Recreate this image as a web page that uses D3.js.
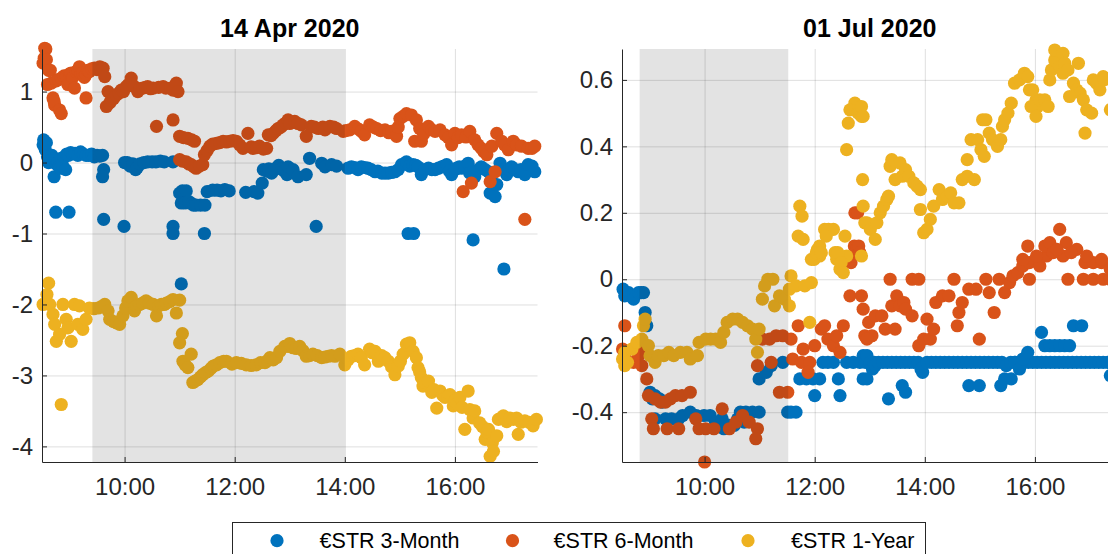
<!DOCTYPE html>
<html><head><meta charset="utf-8">
<script src="https://cdn.jsdelivr.net/npm/d3@7"></script>
<style>
body{margin:0;background:#fff;}
svg{display:block;font-family:"Liberation Sans",Arial,Helvetica,sans-serif;}
</style>
</head><body>
<svg id="chart" width="1108" height="554"></svg>
<script>
// ---------------- DATA ----------------
const seriesNames = ["€STR 3-Month", "€STR 6-Month", "€STR 1-Year"];
const panelTitles = ["14 Apr 2020", "01 Jul 2020"];
const timeRange = [8.5, 17.5];          // decimal hours
const aprYRange = [-4.22, 1.6];
const julYRange = [-0.55, 0.693];
const aprYTicks = [-4, -3, -2, -1, 0, 1];
const julYTicks = [-0.4, -0.2, 0, 0.2, 0.4, 0.6];
const aprShade = [9.415, 14.0];
const julShade = [8.82, 11.52];

// 14 Apr 2020 — [decimal hour, value]
const aprM3 = [[8.52,0.25],[8.53,0.32],[8.56,0.18],[8.58,0.28],[8.6,0.08],[8.62,0.0],[8.65,0.06],[8.68,0.1],[8.7,0.05],[8.72,-0.2],[8.74,0.04],[8.76,-0.02],[8.79,0.0],[8.81,-0.06],[8.83,-0.08],[8.85,0.06],[8.87,-0.03],[8.9,0.08],[8.93,-0.1],[8.95,0.12],[8.98,0.1],[9.02,0.14],[9.06,0.12],[9.1,0.13],[9.15,0.1],[9.2,0.15],[9.25,0.12],[9.3,0.1],[9.35,0.1],[9.4,0.12],[9.45,0.08],[9.5,0.1],[9.55,0.09],[9.6,0.1],[9.62,-0.1],[9.6,-0.2],[8.75,-0.7],[8.99,-0.7],[9.62,-0.8],[9.99,-0.9],
[10.0,0.0],[10.05,0.0],[10.1,-0.05],[10.15,-0.02],[10.2,-0.1],[10.23,-0.07],[10.28,-0.02],[10.35,0.0],[10.42,0.01],[10.5,0.01],[10.57,0.01],[10.65,0.02],[10.72,0.01],[10.88,0.01],[10.88,-0.9],[10.88,-1.0],[11.45,-1.0],[11.03,-1.71],
[11.0,-0.43],[11.05,-0.4],[11.12,-0.4],[11.03,-0.57],[11.1,-0.57],[11.17,-0.55],[11.22,-0.58],[11.25,-0.6],[11.3,-0.6],[11.38,-0.6],[11.46,-0.6],[11.5,-0.41],[11.6,-0.39],[11.68,-0.39],[11.75,-0.4],[11.82,-0.38],[11.9,-0.4],[12.2,-0.42],[12.35,-0.41],[12.42,-0.43],[12.5,-0.29],[12.52,-0.1],[12.58,-0.12],[12.62,-0.09],[12.67,-0.15],[12.72,-0.1],[12.77,-0.07],[12.8,-0.04],[12.85,-0.09],[12.9,-0.12],[12.95,-0.17],[12.97,-0.06],[13.06,-0.1],[13.15,-0.2],[13.3,-0.17],[13.36,0.06],[13.58,-0.01],[13.64,-0.06],[13.76,-0.03],[13.85,-0.05],[13.48,-0.9],
[14.06,-0.08],[14.12,-0.06],[14.18,-0.07],[14.24,-0.1],[14.3,-0.06],[14.36,-0.07],[14.42,-0.08],[14.48,-0.1],[14.55,-0.13],[14.6,-0.12],[14.67,-0.15],[14.73,-0.15],[14.79,-0.15],[14.85,-0.14],[14.91,-0.13],[14.97,-0.1],[15.03,-0.03],[15.08,-0.02],[15.12,0.01],[15.18,-0.05],[15.24,-0.03],[15.29,-0.04],[15.33,-0.06],[15.39,-0.17],[15.45,-0.1],[15.52,-0.08],[15.58,-0.1],[15.64,-0.1],[15.7,-0.08],[15.76,-0.06],[15.8,-0.05],[15.85,-0.03],[15.9,-0.12],[15.94,-0.17],[16.0,-0.1],[16.03,-0.08],[16.08,-0.06],[16.12,-0.08],[16.18,-0.05],[16.24,-0.01],[16.27,-0.15],[16.36,-0.2],[16.42,-0.1],[16.48,-0.06],[16.55,-0.1],[16.61,-0.13],[16.64,-0.43],[16.7,-0.3],[16.73,-0.48],[16.76,-0.31],[16.82,-0.01],[16.88,-0.1],[16.94,-0.17],[16.98,-0.1],[17.03,-0.06],[17.09,-0.1],[17.15,-0.13],[17.2,-0.1],[17.27,-0.17],[17.33,-0.03],[17.4,-0.05],[17.45,-0.13],
[15.15,-1.0],[15.25,-1.0],[16.33,-1.09],[16.89,-1.5]];

const aprM6 = [[8.52,1.4],[8.55,1.61],[8.57,1.6],[8.54,1.47],[8.58,1.45],[8.62,1.3],[8.65,1.3],[8.6,1.1],[8.67,1.12],[8.7,0.91],[8.73,0.81],[8.72,0.86],[8.82,0.74],[8.85,0.69],[8.76,1.15],[8.8,1.17],[8.85,1.19],[8.9,1.22],[8.94,1.21],[8.97,1.1],[9.0,1.25],[9.03,1.26],[9.06,1.2],[9.09,1.05],[9.12,1.28],[9.15,1.3],[9.18,1.35],[9.21,1.25],[9.24,1.26],[9.27,1.2],[9.3,1.24],[9.3,0.91],[9.33,1.3],[9.36,1.28],[9.4,1.32],[9.45,1.33],[9.5,1.31],[9.55,1.35],[9.58,1.32],[9.61,1.33],[9.64,1.21],
[9.67,0.79],[9.7,1.0],[9.73,0.84],[9.76,0.88],[9.8,0.9],[9.85,0.95],[9.9,0.98],[9.94,1.02],[9.98,1.0],[10.03,1.07],[10.07,1.1],[10.12,1.19],[10.18,1.07],[10.24,1.0],[10.28,1.04],[10.33,1.05],[10.38,1.06],[10.42,1.07],[10.47,1.04],[10.52,1.05],[10.62,1.06],[10.7,1.07],[10.75,1.05],[10.84,1.05],[10.88,1.02],[10.94,1.12],[10.97,1.0],[10.58,0.51],[10.88,0.6],
[11.0,0.37],[11.07,0.35],[11.15,0.34],[11.22,0.32],[11.27,0.3],[11.0,0.04],[11.05,0.02],[11.12,0.01],[11.17,-0.02],[11.21,-0.03],[11.26,-0.06],[11.3,-0.08],[11.36,-0.05],[11.42,-0.03],[11.45,0.11],[11.5,0.17],[11.55,0.23],[11.6,0.26],[11.67,0.27],[11.73,0.28],[11.79,0.3],[11.85,0.29],[11.91,0.3],[11.97,0.31],[12.03,0.3],[12.09,0.25],[12.15,0.2],[12.24,0.41],[12.3,0.22],[12.33,0.2],[12.4,0.21],[12.45,0.23],[12.52,0.19],[12.58,0.2],[12.61,0.39],[12.66,0.38],[12.7,0.41],[12.75,0.45],[12.79,0.48],[12.84,0.5],[12.88,0.53],[12.93,0.56],[12.97,0.6],
[13.0,0.55],[13.09,0.58],[13.15,0.55],[13.21,0.53],[13.3,0.37],[13.39,0.51],[13.45,0.5],[13.52,0.48],[13.6,0.5],[13.64,0.46],[13.73,0.51],[13.8,0.5],[13.85,0.48],[13.97,0.44],[14.02,0.45],[14.09,0.46],[14.18,0.51],[14.25,0.47],[14.3,0.44],[14.36,0.39],[14.45,0.53],[14.52,0.5],[14.58,0.48],[14.65,0.45],[14.73,0.46],[14.8,0.42],[14.85,0.44],[14.94,0.37],[14.97,0.5],[15.0,0.62],[15.06,0.65],[15.12,0.69],[15.21,0.67],[15.3,0.6],[15.27,0.3],[15.39,0.3],[15.36,0.48],[15.43,0.4],[15.52,0.51],[15.58,0.46],[15.64,0.44],[15.73,0.46],[15.82,0.39],[15.88,0.35],[15.94,0.25],[16.0,0.41],[16.06,0.35],[16.12,0.39],[16.2,0.36],[16.27,0.44],[16.36,0.32],[16.42,0.25],[16.48,0.2],[16.53,0.15],[16.58,0.11],[16.67,0.23],[16.76,0.41],[16.85,0.3],[16.9,0.25],[16.97,0.18],[17.06,0.3],[17.12,0.25],[17.21,0.23],[17.33,0.2],[17.4,0.2],[17.45,0.23],
[16.64,-0.27],[16.73,-0.13],[16.15,-0.41],[16.3,-0.29],[17.27,-0.8]];

const aprY1 = [[8.62,-1.7],[8.59,-1.86],[8.52,-2.0],[8.64,-2.0],[8.7,-2.14],[8.73,-2.28],[8.76,-2.52],[8.82,-2.42],[8.88,-2.0],[8.94,-2.21],[8.97,-2.33],[9.03,-2.52],[9.09,-2.0],[9.18,-2.02],[9.15,-2.28],[9.24,-2.35],[9.3,-2.21],[9.36,-2.05],[9.44,-2.06],[9.52,-2.05],[9.58,-2.03],[9.64,-2.0],[9.7,-2.09],[9.73,-2.21],[9.8,-2.24],[9.85,-2.26],[9.91,-2.28],[9.97,-2.16],[10.02,-2.05],[10.06,-1.95],[10.12,-1.9],[10.18,-2.09],[10.22,-2.02],[10.27,-2.0],[10.33,-1.98],[10.39,-1.95],[10.45,-1.98],[10.52,-2.0],[10.58,-2.16],[10.62,-2.02],[10.67,-2.0],[10.72,-2.0],[10.76,-1.98],[10.82,-1.96],[10.88,-1.93],[10.94,-2.12],[11.0,-1.94],[8.85,-3.41],
[11.05,-2.41],[11.0,-2.54],[11.06,-2.8],[11.1,-2.85],[11.15,-2.89],[11.21,-2.7],[11.24,-3.1],[11.28,-3.08],[11.33,-3.06],[11.38,-3.02],[11.42,-2.99],[11.47,-2.96],[11.52,-2.94],[11.57,-2.9],[11.61,-2.87],[11.67,-2.85],[11.73,-2.82],[11.8,-2.8],[11.85,-2.8],[11.95,-2.84],[12.03,-2.82],[12.12,-2.83],[12.21,-2.85],[12.3,-2.86],[12.39,-2.85],[12.47,-2.82],[12.55,-2.82],[12.6,-2.79],[12.64,-2.75],[12.7,-2.78],[12.76,-2.75],[12.82,-2.66],[12.91,-2.59],[12.97,-2.59],[13.0,-2.55],[13.06,-2.61],[13.12,-2.62],[13.18,-2.59],[13.24,-2.65],[13.3,-2.73],[13.36,-2.72],[13.42,-2.7],[13.5,-2.72],[13.58,-2.75],[13.64,-2.74],[13.7,-2.73],[13.76,-2.72],[13.82,-2.73],[13.91,-2.7],[14.0,-2.85],[14.06,-2.78],[14.12,-2.73],[14.18,-2.72],[14.24,-2.7],[14.3,-2.75],[14.36,-2.85],[14.45,-2.63],[14.5,-2.68],[14.55,-2.66],[14.61,-2.8],[14.67,-2.72],[14.73,-2.75],[14.79,-2.8],[14.85,-2.88],[14.91,-2.99],[14.97,-2.87],[15.01,-2.8],[15.06,-2.7],[15.12,-2.56],[15.15,-2.58],[15.18,-2.54],[15.24,-2.66],[15.3,-2.75],[15.33,-2.89],[15.36,-2.95],[15.39,-3.03],[15.42,-3.15],[15.46,-3.1],[15.52,-3.08],[15.58,-3.24],[15.62,-3.2],[15.67,-3.46],[15.73,-3.22],[15.78,-3.28],[15.82,-3.31],[15.87,-3.3],[15.91,-3.27],[15.97,-3.43],[16.0,-3.36],[16.04,-3.4],[16.09,-3.31],[16.13,-3.45],[16.18,-3.76],[16.24,-3.22],[16.27,-3.48],[16.33,-3.6],[16.36,-3.5],[16.45,-3.67],[16.5,-3.72],[16.55,-3.9],[16.58,-3.8],[16.61,-3.76],[16.64,-4.14],[16.68,-3.95],[16.7,-4.07],[16.76,-3.85],[16.79,-3.62],[16.84,-3.6],[16.88,-3.57],[16.94,-3.65],[17.0,-3.6],[17.06,-3.62],[17.12,-3.6],[17.15,-3.83],[17.2,-3.66],[17.27,-3.64],[17.35,-3.66],[17.42,-3.71],[17.48,-3.62]];

// 01 Jul 2020 — [decimal hour, value]
const julM3 = [[8.52,-0.03],[8.55,-0.05],[8.62,-0.04],[8.66,-0.05],[8.71,-0.06],[8.8,-0.04],[8.85,-0.04],[8.89,-0.04],[8.92,-0.1],[8.95,-0.14],[9.01,-0.34],[9.05,-0.36],[9.1,-0.35],[9.18,-0.36],[9.23,-0.37],[9.1,-0.42],[9.29,-0.42],[9.4,-0.42],[9.53,-0.42],[9.6,-0.41],[9.74,-0.4],[9.85,-0.41],[9.99,-0.41],[10.1,-0.41],[10.2,-0.43],[10.32,-0.42],[10.35,-0.45],[10.45,-0.44],[10.54,-0.44],[10.6,-0.42],[10.65,-0.4],[10.72,-0.43],[10.75,-0.4],[10.87,-0.4],[10.99,-0.4],[10.99,-0.3],[11.12,-0.28],[11.21,-0.26],[11.42,-0.25],[11.51,-0.4],[11.57,-0.4],[11.66,-0.4],[11.73,-0.3],[11.85,-0.3],[11.97,-0.3],[12.0,-0.35],[12.09,-0.3],[12.15,-0.25],[12.24,-0.25],[12.34,-0.25],[12.43,-0.3],[12.46,-0.35],[12.58,-0.25],[12.7,-0.25],[12.82,-0.25],[12.88,-0.3],[12.88,-0.23],[12.95,-0.3],
[12.92,-0.25],[12.95,-0.23],[13.0,-0.25],[13.05,-0.27],[13.08,-0.25],[13.1,-0.26],[13.16,-0.25],[13.24,-0.25],[13.32,-0.25],[13.4,-0.25],[13.48,-0.25],[13.56,-0.25],[13.64,-0.25],[13.72,-0.25],[13.8,-0.25],[13.88,-0.25],[13.93,-0.27],[13.96,-0.28],[14.04,-0.25],[14.12,-0.25],[14.2,-0.25],[14.28,-0.25],[14.36,-0.25],[14.44,-0.25],[14.52,-0.25],[14.6,-0.25],[14.68,-0.25],[14.76,-0.25],[14.84,-0.25],[14.92,-0.25],[15.0,-0.25],[15.08,-0.25],[15.16,-0.25],[15.24,-0.25],[15.32,-0.25],[15.4,-0.25],[15.48,-0.26],[15.56,-0.25],[15.64,-0.25],[15.72,-0.25],[15.8,-0.25],[15.88,-0.25],[15.96,-0.25],[16.04,-0.25],[16.12,-0.25],[16.2,-0.25],[16.28,-0.25],[16.36,-0.25],[16.44,-0.25],[16.52,-0.25],[16.6,-0.25],[16.68,-0.25],[16.76,-0.25],[16.84,-0.25],[16.92,-0.25],[17.0,-0.25],[17.08,-0.25],[17.16,-0.25],[17.24,-0.25],[17.32,-0.25],
[13.34,-0.36],[13.59,-0.32],[13.65,-0.34],[14.8,-0.32],[14.99,-0.32],[15.38,-0.32],[15.45,-0.3],[15.57,-0.3],[15.63,-0.25],[15.72,-0.27],[15.78,-0.24],[15.87,-0.22],[16.12,-0.16],[16.18,-0.2],[16.27,-0.2],[16.36,-0.2],[16.45,-0.2],[16.54,-0.2],[16.63,-0.2],[16.7,-0.14],[16.85,-0.14],[17.37,-0.29]];

const julM6 = [[8.55,-0.14],[8.51,-0.21],[8.55,-0.23],[8.71,-0.25],[8.8,-0.23],[8.86,-0.26],[8.95,-0.3],[8.89,-0.21],[8.98,-0.35],[9.1,-0.36],[9.2,-0.37],[9.29,-0.37],[9.38,-0.36],[9.47,-0.35],[9.59,-0.35],[9.74,-0.34],[9.04,-0.42],[9.07,-0.45],[9.32,-0.45],[9.53,-0.45],[9.84,-0.42],[9.9,-0.45],[10.02,-0.45],[10.17,-0.45],[10.32,-0.39],[10.45,-0.45],[10.57,-0.43],[10.69,-0.41],[10.81,-0.43],[10.96,-0.45],[10.93,-0.48],[10.0,-0.55],
[11.05,-0.18],[11.18,-0.18],[11.3,-0.17],[11.42,-0.17],[11.57,-0.18],[10.96,-0.26],[11.21,-0.25],[11.36,-0.34],[11.51,-0.34],[11.7,-0.14],[11.6,-0.24],[11.76,-0.25],[11.91,-0.25],[11.88,-0.28],[11.79,-0.21],[12.0,-0.2],[12.12,-0.15],[12.18,-0.14],[12.24,-0.18],[12.34,-0.2],[12.4,-0.17],[12.52,-0.14],[12.46,-0.22],[12.64,-0.05],[12.85,-0.05],[12.88,-0.09],[12.91,-0.17],
[12.66,0.05],[12.7,0.07],[12.72,0.1],[12.76,0.09],[12.8,0.1],[12.82,0.08],[12.73,0.2],[12.78,0.2],
[12.98,-0.13],[13.04,-0.17],[12.95,-0.18],[13.1,-0.11],[13.22,-0.11],[13.28,-0.15],[13.37,0.0],[13.4,-0.08],[13.49,-0.05],[13.55,-0.08],[13.62,-0.07],[13.65,-0.09],[13.77,-0.11],[13.46,-0.15],[13.89,-0.2],[13.98,-0.18],[14.04,-0.12],[14.1,-0.18],[14.16,-0.15],[13.77,0.0],[13.89,0.0],[14.2,-0.07],[14.32,-0.05],[14.44,-0.05],[14.53,0.0],[14.59,-0.14],[14.62,-0.1],[14.68,-0.07],[14.8,-0.03],[14.93,-0.03],[14.99,-0.18],[15.11,0.0],[15.17,-0.04],[15.26,-0.1],[15.35,0.0],[15.45,-0.04],[15.54,-0.01],[15.6,0.01],[15.69,0.02],[15.78,0.04],[15.9,0.0],[15.9,0.05],[16.09,0.04],[16.21,0.07],[16.51,0.07],[16.6,0.0],[16.88,0.0],[17.06,0.0],[17.24,0.0],[17.37,0.0],[16.91,0.05],[17.06,0.05],[17.21,0.05],[17.37,0.03],
[15.87,0.1],[16.18,0.1],[16.27,0.11],[16.45,0.15],[16.33,0.08],[16.57,0.11],[16.76,0.09],[16.94,0.07],[15.78,0.06],[16.03,0.07],[16.4,0.09],[16.66,0.08],[17.21,0.06]];

const julY1 = [[8.55,-0.22],[8.51,-0.24],[8.55,-0.26],[8.6,-0.25],[8.68,-0.21],[8.77,-0.19],[8.86,-0.18],[8.89,-0.14],[8.92,-0.12],[8.98,-0.2],[9.01,-0.23],[9.1,-0.25],[9.16,-0.23],[9.26,-0.23],[9.35,-0.22],[9.44,-0.23],[9.56,-0.22],[9.68,-0.22],[9.74,-0.24],[9.87,-0.23],[9.9,-0.19],[10.02,-0.18],[10.11,-0.18],[10.2,-0.18],[10.29,-0.19],[10.35,-0.16],[10.41,-0.13],[10.51,-0.12],[10.6,-0.12],[10.69,-0.13],[10.78,-0.14],[10.87,-0.15],[10.93,-0.18],[10.99,-0.15],[10.96,-0.22],
[11.15,0.0],[11.24,0.0],[11.09,-0.02],[11.05,-0.06],[11.27,-0.08],[11.36,-0.05],[11.45,-0.06],[11.54,-0.03],[11.57,0.01],[11.66,-0.02],[11.82,-0.02],[11.94,-0.01],[11.54,-0.08],[11.91,-0.13],[11.94,0.06],[11.99,0.06],[12.09,0.07],[12.4,0.06],[12.46,0.03],[12.58,0.07],
[11.73,0.22],[11.77,0.19],[11.7,0.13],[11.79,0.12],[12.05,0.09],[12.18,0.15],[12.25,0.15],[12.34,0.15],[12.21,0.13],[12.55,0.13],[12.09,0.1],[12.03,0.08],[12.37,0.08],[12.12,0.08],[12.42,0.08],[12.48,0.05],[12.52,0.02],[12.88,0.22],[12.91,0.17],[12.73,0.53],[12.64,0.51],[12.79,0.5],[12.85,0.49],[12.61,0.47],[12.58,0.39],[12.87,0.3],[12.85,0.52],[12.88,0.49],[12.85,0.07],
[12.95,0.17],[13.01,0.15],[13.1,0.12],[13.13,0.17],[13.19,0.2],[13.25,0.22],[13.31,0.24],[13.34,0.25],[13.37,0.34],[13.4,0.36],[13.46,0.3],[13.55,0.35],[13.59,0.31],[13.65,0.33],[13.71,0.31],[13.8,0.29],[13.86,0.28],[13.92,0.27],[13.92,0.21],[13.98,0.14],[14.04,0.15],[14.1,0.18],[14.16,0.22],[14.26,0.27],[14.32,0.24],[14.41,0.25],[14.47,0.26],[14.53,0.23],[14.62,0.23],[14.68,0.3],[14.77,0.31],[14.9,0.3],[14.77,0.36],[14.84,0.42],[14.96,0.42],[15.02,0.39],[15.08,0.37],[15.05,0.48],[15.11,0.48],[15.17,0.44],[15.23,0.42],[15.32,0.4],[15.38,0.42],[15.41,0.46],[15.45,0.48],[15.51,0.5],[15.57,0.53],[15.63,0.59],[15.72,0.6],[15.81,0.62],[15.87,0.61],[15.9,0.57],[15.96,0.57],[16.02,0.54],[16.05,0.52],[15.93,0.52],[16.09,0.54],[16.18,0.54],[16.24,0.52],[16.02,0.49],[16.27,0.6],[16.3,0.63],[16.36,0.66],[16.36,0.69],[16.45,0.64],[16.51,0.68],[16.54,0.65],[16.51,0.62],[16.6,0.63],[16.7,0.59],[16.79,0.65],[16.76,0.57],[16.82,0.56],[16.88,0.54],[16.94,0.51],[16.63,0.55],[17.03,0.5],[16.91,0.44],[17.06,0.6],[17.12,0.59],[17.18,0.57],[17.24,0.61],[17.26,0.6],[17.37,0.51]];

const aprSeries = [aprM3, aprM6, aprY1];
const julSeries = [julM3, julM6, julY1];

// ---------------- STYLE / LAYOUT ----------------
const colors = ["#0072BD", "#D95319", "#EDB120"];
const axisColor = "#262626";
const plotTop = 49, plotBottom = 462, plotW = 495.5;
const dotR = 6.6;
const base = new Date(2020, 0, 1).getTime();
const toDate = h => new Date(base + h * 3600000);

const svg = d3.select("#chart");

function drawPanel(cfg) {
  const g = svg.append("g");
  const x = d3.scaleTime().domain(timeRange.map(toDate)).range([cfg.x0, cfg.x0 + plotW]);
  const y = d3.scaleLinear().domain(cfg.yRange).range([plotBottom, plotTop]);
  const hourTicks = d3.timeHour.every(2);

  // grid
  g.append("g").attr("transform", `translate(0,${plotBottom})`)
    .call(d3.axisBottom(x).ticks(hourTicks).tickSize(-(plotBottom - plotTop)).tickFormat(""))
    .call(s => { s.select(".domain").remove(); s.selectAll("line").attr("stroke", axisColor).attr("stroke-opacity", 0.15); });
  g.append("g").attr("transform", `translate(${cfg.x0},0)`)
    .call(d3.axisLeft(y).tickValues(cfg.yTicks).tickSize(-plotW).tickFormat(""))
    .call(s => { s.select(".domain").remove(); s.selectAll("line").attr("stroke", axisColor).attr("stroke-opacity", 0.15); });

  // dots
  cfg.series.forEach((arr, i) => {
    g.append("g").selectAll("circle").data(arr).join("circle")
      .attr("cx", d => x(toDate(d[0])))
      .attr("cy", d => y(d[1]))
      .attr("r", dotR)
      .attr("fill", colors[i]);
  });

  // shaded window
  g.append("rect")
    .attr("x", x(toDate(cfg.shade[0])))
    .attr("width", x(toDate(cfg.shade[1])) - x(toDate(cfg.shade[0])))
    .attr("y", plotTop).attr("height", plotBottom - plotTop)
    .attr("fill", "#000").attr("fill-opacity", 0.11);

  // axes
  const xa = g.append("g").attr("transform", `translate(0,${plotBottom})`)
    .call(d3.axisBottom(x).ticks(hourTicks).tickFormat(d3.timeFormat("%H:%M"))
      .tickSizeInner(-5).tickSizeOuter(0).tickPadding(16));
  const ya = g.append("g").attr("transform", `translate(${cfg.x0},0)`)
    .call(d3.axisLeft(y).tickValues(cfg.yTicks).tickFormat(d => String(d))
      .tickSizeInner(-5).tickSizeOuter(0).tickPadding(9));
  [xa, ya].forEach(a => {
    a.attr("font-family", null).attr("font-size", null);
    a.select(".domain").attr("stroke", axisColor).attr("stroke-width", 1);
    a.selectAll(".tick line").attr("stroke", axisColor);
    a.selectAll(".tick text").attr("fill", axisColor).style("font-size", "24px");
  });

  // title
  g.append("text")
    .attr("x", cfg.x0 + plotW / 2).attr("y", 37)
    .attr("text-anchor", "middle")
    .style("font-size", "25px").style("font-weight", "bold")
    .attr("fill", "#000")
    .text(cfg.title);
}

drawPanel({ x0: 42, yRange: aprYRange, yTicks: aprYTicks, shade: aprShade, series: aprSeries, title: panelTitles[0] });
drawPanel({ x0: 622, yRange: julYRange, yTicks: julYTicks, shade: julShade, series: julSeries, title: panelTitles[1] });

// legend
const leg = svg.append("g");
leg.append("rect").attr("x", 232.5).attr("y", 522.5).attr("width", 693).attr("height", 45)
  .attr("fill", "#fff").attr("stroke", axisColor).attr("stroke-width", 1);
const legMarkerX = [277, 512.5, 748];
const legTextX = [319.6, 553.6, 791];
seriesNames.forEach((name, i) => {
  leg.append("circle").attr("cx", legMarkerX[i]).attr("cy", 540.7).attr("r", dotR).attr("fill", colors[i]);
  leg.append("text").attr("x", legTextX[i]).attr("y", 548.3)
    .style("font-size", "21.5px").attr("fill", "#000").text(name);
});
</script>
</body></html>
